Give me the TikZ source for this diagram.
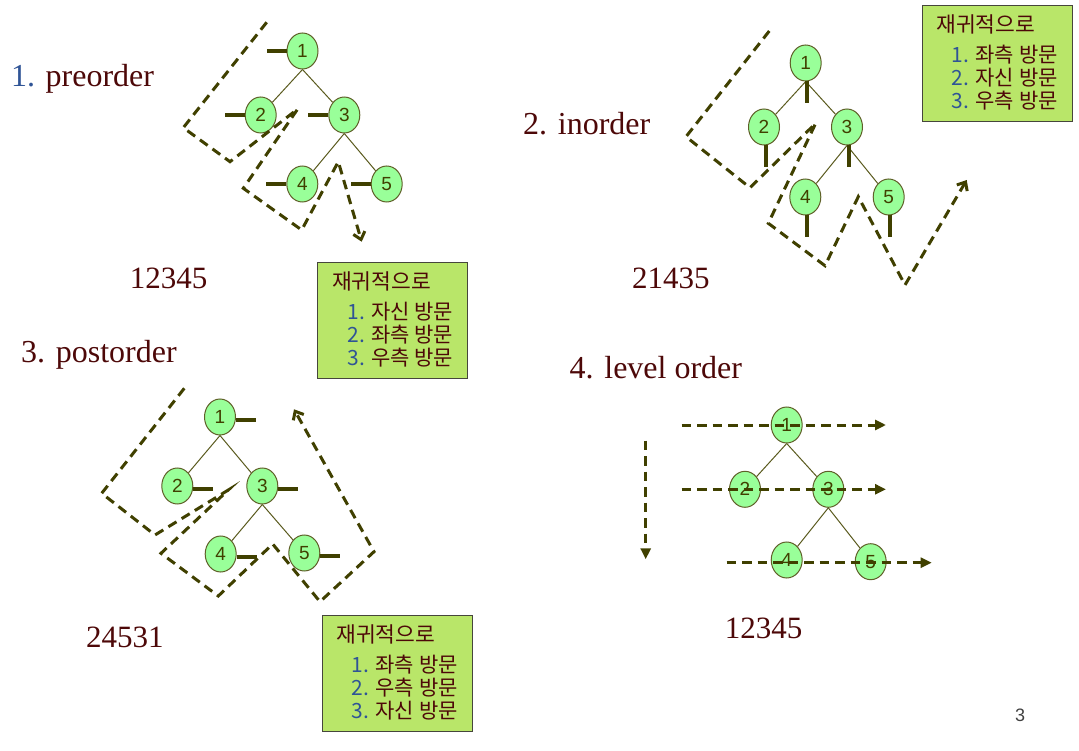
\documentclass[tikz,border=0pt]{standalone}
\usepackage{fontspec}
\setmainfont{Liberation Serif}
\newfontfamily\sansdig{Liberation Sans}
\newfontfamily\kr{Noto Sans CJK KR}
\usetikzlibrary{shapes.geometric,arrows.meta}
\definecolor{nodefill}{RGB}{153,255,153}
\definecolor{nodeline}{RGB}{95,95,40}
\definecolor{dkolive}{RGB}{64,64,0}
\definecolor{edgecol}{RGB}{90,90,30}
\definecolor{titlered}{RGB}{77,8,8}
\definecolor{numblue}{RGB}{47,84,150}
\definecolor{boxfill}{RGB}{185,230,105}
\definecolor{boxline}{RGB}{70,70,60}
\definecolor{pagegray}{RGB}{64,64,64}
\newcommand{\nd}[1]{\raisebox{-4pt}{#1}}
\begin{document}
\begin{tikzpicture}[x=1pt,y=-1pt,
  tnode/.style={ellipse, draw=nodeline, line width=1pt, fill=nodefill,
    minimum width=31pt, minimum height=36pt, inner sep=0pt,
    font=\sansdig\fontsize{19}{19}\selectfont, text=dkolive},
  edge/.style={draw=edgecol, line width=1pt},
  tick/.style={draw=dkolive, line width=4pt},
  walk/.style={draw=dkolive, line width=3pt, dash pattern=on 9.5pt off 6pt},
  lvl/.style={draw=dkolive, line width=3pt, dash pattern=on 9.5pt off 6pt,
    -{Triangle[length=11pt,width=10pt]}},
  title/.style={anchor=base west, font=\fontsize{32}{38}\selectfont, text=titlered, inner sep=0pt},
  result/.style={anchor=base west, font=\fontsize{31}{36}\selectfont, text=titlered, inner sep=0pt},
  infobox/.style={draw=boxline, fill=boxfill, line width=1pt, minimum width=150pt,
    minimum height=116pt, anchor=north west, inner sep=0pt},
  boxtitle/.style={anchor=west, font=\kr\fontsize{21.5}{24}\selectfont, text=titlered, inner sep=0pt},
  boxitem/.style={anchor=west, font=\kr\fontsize{21}{24}\selectfont, text=titlered, inner sep=0pt}
]
\useasboundingbox (0,0) rectangle (1079,751);

% ---------- titles ----------
\node[title, text=numblue] (t1n) at (11,87) {1.};
\node[title] (t1) at (45.5,87) {preorder};
\node[title] (t2) at (523,135) {2. inorder};
\node[title] (t3) at (21,362) {3. postorder};
\node[title] (t4) at (569.5,378) {4. level order};

\node[result] (r1) at (129.6,289) {12345};
\node[result] (r2) at (632,289) {21435};
\node[result] (r3) at (86,647) {24531};
\node[result] (r4) at (724.6,638) {12345};

% ---------- 1. preorder ----------
\node[tnode] (a1) at (302.5,51) {\nd{1}};
\node[tnode] (a2) at (260.7,115) {\nd{2}};
\node[tnode] (a3) at (344.3,115) {\nd{3}};
\node[tnode] (a4) at (302.3,184) {\nd{4}};
\node[tnode] (a5) at (386.7,184) {\nd{5}};
\draw[edge] (a1.south) -- (a2);
\draw[edge] (a1.south) -- (a3);
\draw[edge] (a3.south) -- (a4);
\draw[edge] (a3.south) -- (a5);
\foreach \n in {a1,a2,a3,a4,a5} \draw[tick] (\n.west) -- ++(-20,0);
\draw[walk, -{Straight Barb[length=7pt,width=12pt]}]
  (266.7,22.3) -- (183.3,127.7) -- (230,161.7) -- (297.7,109) -- (243.3,188.3)
  -- (301.7,230) -- (338.3,161.7) -- (361.7,241.7);

% ---------- 2. inorder ----------
\node[tnode] (b1) at (805.7,63) {\nd{1}};
\node[tnode] (b2) at (764,127) {\nd{2}};
\node[tnode] (b3) at (847,127) {\nd{3}};
\node[tnode] (b4) at (805.3,197) {\nd{4}};
\node[tnode] (b5) at (888.7,197) {\nd{5}};
\draw[edge] (b1.south) -- (b2);
\draw[edge] (b1.south) -- (b3);
\draw[edge] (b3.south) -- (b4);
\draw[edge] (b3.south) -- (b5);
\foreach \n in {b1,b2,b3,b4,b5} \draw[tick] ([xshift=1.5pt]\n.south) -- ++(0,22);
\draw[walk, -{Straight Barb[length=7pt,width=12pt]}]
  (769.3,31) -- (686,136.7) -- (750,187.7) -- (815.7,123.3) -- (768.3,223.3)
  -- (825,265.7) -- (858.3,196.7) -- (905,285) -- (966.7,180);

% ---------- 3. postorder ----------
\node[tnode] (c1) at (220,417) {\nd{1}};
\node[tnode] (c2) at (177.3,486) {\nd{2}};
\node[tnode] (c3) at (262.3,486) {\nd{3}};
\node[tnode] (c4) at (220.7,554) {\nd{4}};
\node[tnode] (c5) at (304.3,553) {\nd{5}};
\draw[edge] (c1.south) -- (c2);
\draw[edge] (c1.south) -- (c3);
\draw[edge] (c3.south) -- (c4);
\draw[edge] (c3.south) -- (c5);
\foreach \n in {c1,c2,c3,c4,c5} \draw[tick] ([yshift=-3pt]\n.east) -- ++(20,0);
\draw[walk, -{Straight Barb[length=7pt,width=12pt]}]
  (184.3,388.3) -- (101.7,493.3) -- (155,535) -- (228.3,490) -- (161,553.3)
  -- (218.3,596) -- (272.7,544) -- (320,601.7) -- (374,551.7) -- (294,409.3);

% ---------- 4. level order ----------
\node[tnode] (d1) at (786.7,425) {\nd{1}};
\node[tnode] (d2) at (745,489.3) {\nd{2}};
\node[tnode] (d3) at (828.3,489.3) {\nd{3}};
\node[tnode] (d4) at (786.7,560) {\nd{4}};
\node[tnode] (d5) at (870.7,561.7) {\nd{5}};
\draw[edge] (d1.south) -- (d2);
\draw[edge] (d1.south) -- (d3);
\draw[edge] (d3.south) -- (d4);
\draw[edge] (d3.south) -- (d5);
\coordinate (l1s) at (681.7,425);   \coordinate (l1e) at (886,425);
\coordinate (l2s) at (681.7,489.3); \coordinate (l2e) at (886,489.3);
\coordinate (l3s) at (726.7,562.7); \coordinate (l3e) at (931.7,562.7);
\coordinate (vs) at (645.7,440.7);  \coordinate (ve) at (645.7,559.3);
\draw[lvl] (l1s) -- (l1e);
\draw[lvl] (l2s) -- (l2e);
\draw[lvl] (l3s) -- (l3e);
\draw[lvl] (vs) -- (ve);

% ---------- info boxes ----------
\node[infobox] (x1) at (317.3,262) {};
\node[boxtitle] (x1t) at ([shift={(14.5,19)}]x1.north west) {재귀적으로};
\node[boxitem] (x1a) at ([shift={(30,50)}]x1.north west) {\textcolor{numblue}{1.} 자신 방문};
\node[boxitem] (x1b) at ([shift={(30,73)}]x1.north west) {\textcolor{numblue}{2.} 좌측 방문};
\node[boxitem] (x1c) at ([shift={(30,96)}]x1.north west) {\textcolor{numblue}{3.} 우측 방문};

\node[infobox] (x2) at (921.7,5) {};
\node[boxtitle] (x2t) at ([shift={(14.5,19)}]x2.north west) {재귀적으로};
\node[boxitem] (x2a) at ([shift={(30,50)}]x2.north west) {\textcolor{numblue}{1.} 좌측 방문};
\node[boxitem] (x2b) at ([shift={(30,73)}]x2.north west) {\textcolor{numblue}{2.} 자신 방문};
\node[boxitem] (x2c) at ([shift={(30,96)}]x2.north west) {\textcolor{numblue}{3.} 우측 방문};

\node[infobox] (x3) at (321.7,615) {};
\node[boxtitle] (x3t) at ([shift={(14.5,19)}]x3.north west) {재귀적으로};
\node[boxitem] (x3a) at ([shift={(30,50)}]x3.north west) {\textcolor{numblue}{1.} 좌측 방문};
\node[boxitem] (x3b) at ([shift={(30,73)}]x3.north west) {\textcolor{numblue}{2.} 우측 방문};
\node[boxitem] (x3c) at ([shift={(30,96)}]x3.north west) {\textcolor{numblue}{3.} 자신 방문};

% ---------- page number ----------
\node[font=\sansdig\fontsize{18}{18}\selectfont, text=pagegray, inner sep=0pt] (pg) at (1020,715) {3};
\end{tikzpicture}
\end{document}
